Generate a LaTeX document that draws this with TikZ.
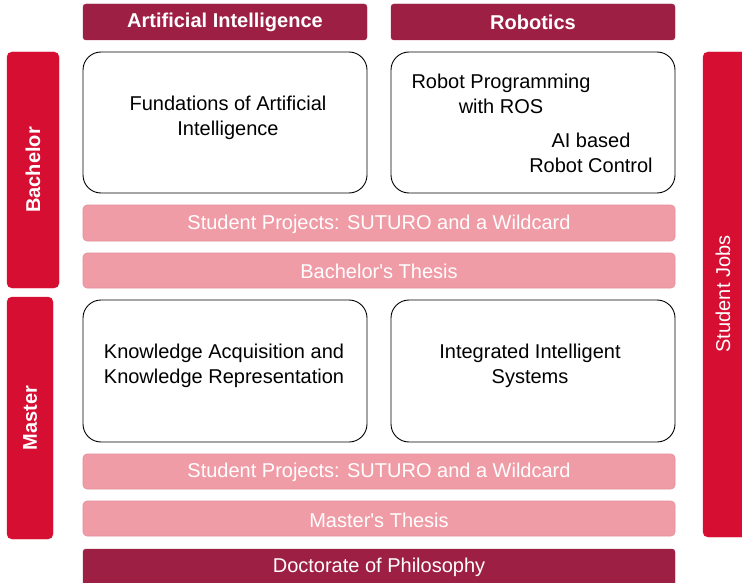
\documentclass[tikz,border=0pt]{standalone}
\usepackage{fontspec}
\setmainfont{Liberation Sans}[Ligatures=TeXOff]
\definecolor{maroon}{HTML}{9E1F44}
\definecolor{redbar}{HTML}{D50E32}
\definecolor{pinkbar}{HTML}{F09CA7}
\definecolor{pinkedge}{HTML}{E48D99}
\begin{document}
\begin{tikzpicture}[x=1pt,y=-1pt,
  header/.style={fill=maroon,draw=maroon,rounded corners=3pt,text=white,font=\fontsize{20}{24}\selectfont\bfseries},
  sidebar/.style={fill=redbar,draw=redbar,rounded corners=5pt,text=white},
  course/.style={fill=white,draw=black,line width=0.9pt,rounded corners=18pt},
  pinkrow/.style={fill=pinkbar,draw=pinkedge,line width=0.6pt,rounded corners=4pt},
  bodytxt/.style={font=\fontsize{20}{24.5}\selectfont,align=center,text=black},
  rowtxt/.style={font=\fontsize{20}{24}\selectfont,text=white},
  sidetxt/.style={font=\fontsize{20}{24}\selectfont,text=white}]
\useasboundingbox (0,0) rectangle (742,583);
% headers
\draw[header] (83,4) rectangle (367,40);
\node[header,draw=none,fill=none] (ai) at (225,22) {Artificial Intelligence};
\draw[header] (391,4) rectangle (675,40);
\node[header,draw=none,fill=none] (rob) at (533,22) {Robotics};
% side bars
\draw[sidebar] (7,52) rectangle (59,288);
\node[sidetxt,font=\fontsize{20}{24}\selectfont\bfseries,rotate=90] (bach) at (33,170) {Bachelor};
\draw[sidebar] (7,297) rectangle (53,539);
\node[sidetxt,font=\fontsize{20}{24}\selectfont\bfseries,rotate=90] (mast) at (30,418) {Master};
\draw[sidebar] (703,52) rectangle (748,537);
\node[sidetxt,rotate=90] (jobs) at (723,294) {Student Jobs};
% course boxes
\draw[course] (83,52) rectangle (367,193);
\node[bodytxt] (fai) at (228,118) {Fundations of Artificial\\Intelligence};
\draw[course] (391,52) rectangle (675,193);
\node[bodytxt] (ros) at (501,94) {Robot Programming\\with ROS};
\node[bodytxt] (aic) at (591,153) {AI based\\Robot Control};
\draw[course] (83,300) rectangle (367,442);
\node[bodytxt] (kar) at (224,366) {Knowledge Acquisition and\\Knowledge Representation};
\draw[course] (391,300) rectangle (675,442);
\node[bodytxt] (iis) at (530,366) {Integrated Intelligent\\Systems};
% pink rows
\draw[pinkrow] (83,205) rectangle (675,241);
\node[rowtxt] (sp1) at (379,224) {Student Projects: SUTURO and a Wildcard};
\draw[pinkrow] (83,253) rectangle (675,288);
\node[rowtxt] (bt) at (379,271) {Bachelor's Thesis};
\draw[pinkrow] (83,454) rectangle (675,489);
\node[rowtxt] (sp2) at (379,472) {Student Projects: SUTURO and a Wildcard};
\draw[pinkrow] (83,501) rectangle (675,536);
\node[rowtxt] (mt) at (379,520) {Master's Thesis};
% doctorate
\draw[header] (83,549) rectangle (675,590);
\node[rowtxt] (phd) at (379,567) {Doctorate of Philosophy};
\end{tikzpicture}
\end{document}
